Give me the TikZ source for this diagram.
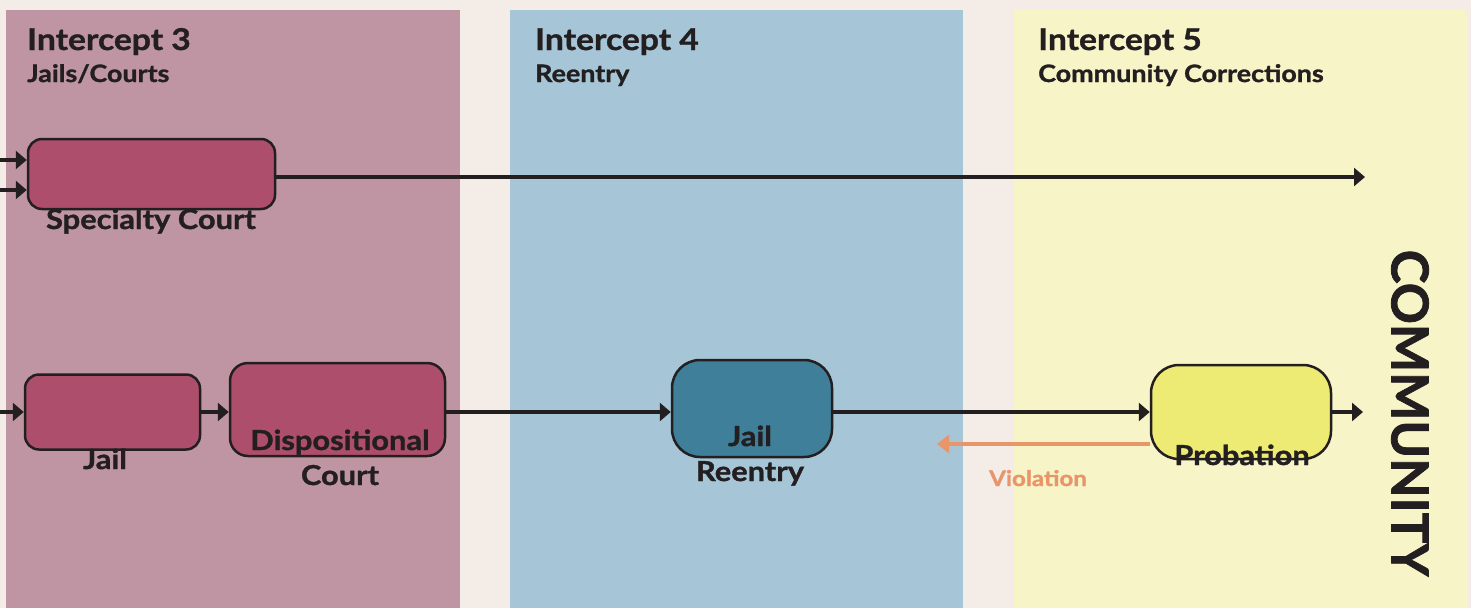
\documentclass[tikz,border=0pt]{standalone}
\usepackage{fontspec}
\setmainfont{Lato}[BoldFeatures={FakeStretch=1.12,FakeBold=1.2}]
\newfontfamily\commfont{Lato}[BoldFeatures={FakeBold=1.5}]
\usetikzlibrary{arrows.meta}
\definecolor{bg}{HTML}{F3ECE7}
\definecolor{pthree}{HTML}{BF95A3}
\definecolor{pfour}{HTML}{A6C5D6}
\definecolor{pfive}{HTML}{F7F4C8}
\definecolor{mag}{HTML}{AD4E6C}
\definecolor{teal}{HTML}{3F7F99}
\definecolor{yel}{HTML}{EEEB74}
\definecolor{ink}{HTML}{231F20}
\definecolor{viol}{HTML}{E8956A}
\begin{document}
\begin{tikzpicture}[x=1pt,y=-1pt,
  box/.style={draw=ink,line width=2.5pt,inner sep=0pt},
  arr/.style={draw=ink,line width=3.8pt,-{Triangle[length=11pt,width=18pt]}},
  varr/.style={draw=viol,line width=3.8pt,-{Triangle[length=12pt,width=18pt]}},
  title/.style={anchor=base west,inner sep=0pt,font=\fontsize{30}{30}\selectfont\bfseries,text=ink},
  sub/.style={anchor=base west,inner sep=0pt,font=\fontsize{24}{24}\selectfont\bfseries,text=ink},
  lab/.style={anchor=base,inner sep=0pt,font=\fontsize{27.5}{27.5}\selectfont\bfseries,text=ink}]
\fill[bg] (0,0) rectangle (1471,608);
\useasboundingbox (0,0) rectangle (1471,608);
\fill[pthree] (6,10) rectangle (460,608);
\fill[pfour] (510,10) rectangle (963,608);
\fill[pfive] (1014,10) rectangle (1467,608);
\node[title] (t3) at (27,50) {Intercept 3};
\node[sub] (s3) at (27,82) {Jails/Courts};
\node[title] (t4) at (535,50) {Intercept 4};
\node[sub] (s4) at (535,82) {Reentry};
\node[title] (t5) at (1038,50) {Intercept 5};
\node[sub] (s5) at (1038,82) {Community Corrections};
% top row
\node[box,fill=mag,rounded corners=14pt,minimum width=247pt,minimum height=70pt] (sc) at (151.5,174) {};
\node[lab] (scl) at (151,229) {Specialty Court};
\coordinate (in1) at (0,160);
\coordinate (in2) at (0,190);
\coordinate (scend) at (1365,177);
\draw[arr] (in1) -- (in1 -| sc.west);
\draw[arr] (in2) -- (in2 -| sc.west);
\draw[arr] (scend -| sc.east) -- (scend);
% bottom row
\node[box,fill=mag,rounded corners=14pt,minimum width=175pt,minimum height=75pt] (jail) at (112.5,412) {};
\node[lab] (jaill) at (105,469) {Jail};
\node[box,fill=mag,rounded corners=18pt,minimum width=215pt,minimum height=93pt] (disp) at (337.5,409.5) {};
\node[lab] (displ1) at (340,450) {Dispositional};
\node[lab] (displ2) at (340,485) {Court};
\node[box,fill=teal,rounded corners=28pt,minimum width=160pt,minimum height=97pt] (jr) at (752,408.5) {};
\node[lab] (jrl1) at (750,446) {Jail};
\node[lab] (jrl2) at (750,481) {Reentry};
\node[box,fill=yel,rounded corners=28pt,minimum width=180pt,minimum height=94pt] (prob) at (1241,412) {};
\node[lab] (probl) at (1242,465) {Probation};
\coordinate (jin) at (0,412);
\coordinate (pout) at (1363,412);
\draw[arr] (jin) -- (jail.west);
\draw[arr] (jail.east) -- (jail.east -| disp.west);
\draw[arr] (jin -| disp.east) -- (jin -| jr.west);
\draw[arr] (jin -| jr.east) -- (jin -| prob.west);
\draw[arr] (prob.east) -- (pout);
\coordinate (vend) at (937,444);
\draw[varr] (vend -| prob.west) -- (vend);
\node[anchor=base,inner sep=0pt,font=\fontsize{21.5}{21.5}\selectfont\bfseries,text=viol] (violl) at (1038,486) {Violation};
\node[rotate=-90,inner sep=0pt,font=\commfont\fontsize{51}{51}\selectfont\bfseries,text=ink] (comm) at (1410,413) {COMMUNITY};
\end{tikzpicture}
\end{document}
